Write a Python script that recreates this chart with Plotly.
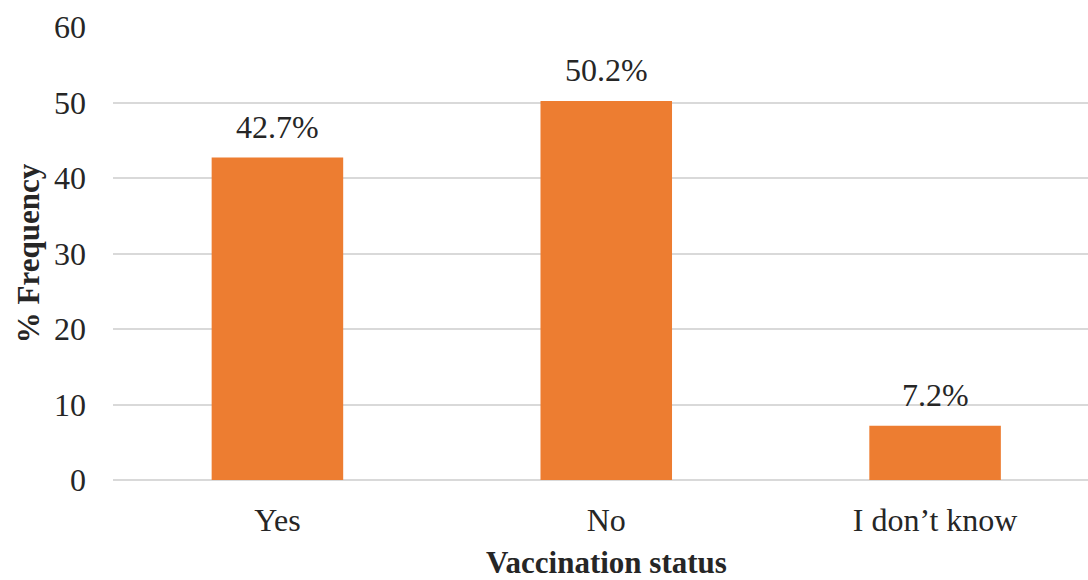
import plotly.graph_objects as go

categories = ["Yes", "No", "I don\u2019t know"]
values = [42.7, 50.2, 7.2]
labels = ["42.7%", "50.2%", "7.2%"]
y_ticks = [0, 10, 20, 30, 40, 50, 60]

FONT = "Liberation Serif, Times New Roman, serif"
TXT = "#262626"

xs = list(range(len(categories)))

fig = go.Figure(go.Bar(
    x=xs,
    y=values,
    marker=dict(color="#ED7D31", line=dict(width=0)),
    width=0.4,
    hoverinfo="skip",
))

annotations = [
    dict(x=x, y=v, xref="x", yref="y", text=t, showarrow=False,
         yanchor="bottom", yshift=11,
         font=dict(family=FONT, size=32, color=TXT))
    for x, v, t in zip(xs, values, labels)
]
annotations.append(dict(
    text="<b>Vaccination status</b>",
    x=1, xref="x", y=-(580 - 480) / 453, yref="paper", yanchor="bottom",
    yshift=-2,
    showarrow=False,
    font=dict(family=FONT, size=31, color=TXT),
))

fig.update_layout(
    width=1088, height=580,
    margin=dict(l=113, r=0, t=27, b=100),
    paper_bgcolor="white", plot_bgcolor="white",
    showlegend=False,
    font=dict(family=FONT, size=32, color=TXT),
    xaxis=dict(
        tickmode="array",
        tickvals=xs,
        ticktext=categories,
        range=[-0.5, 2.465],
        showgrid=False, zeroline=False,
        showline=False,
        ticks="", ticklabelstandoff=18,
        tickfont=dict(family=FONT, size=32, color=TXT),
    ),
    yaxis=dict(
        range=[0, 60],
        tickvals=y_ticks,
        showgrid=True, gridcolor="#D9D9D9", gridwidth=1.5,
        zeroline=True, zerolinecolor="#D9D9D9", zerolinewidth=2,
        showline=False, ticks="",
        ticklabelstandoff=26,
        tickfont=dict(family=FONT, size=32, color=TXT),
        title=dict(text="<b>% Frequency</b>", font=dict(family=FONT, size=31, color=TXT), standoff=5),
    ),
    annotations=annotations,
)

fig.write_html("out.html")
